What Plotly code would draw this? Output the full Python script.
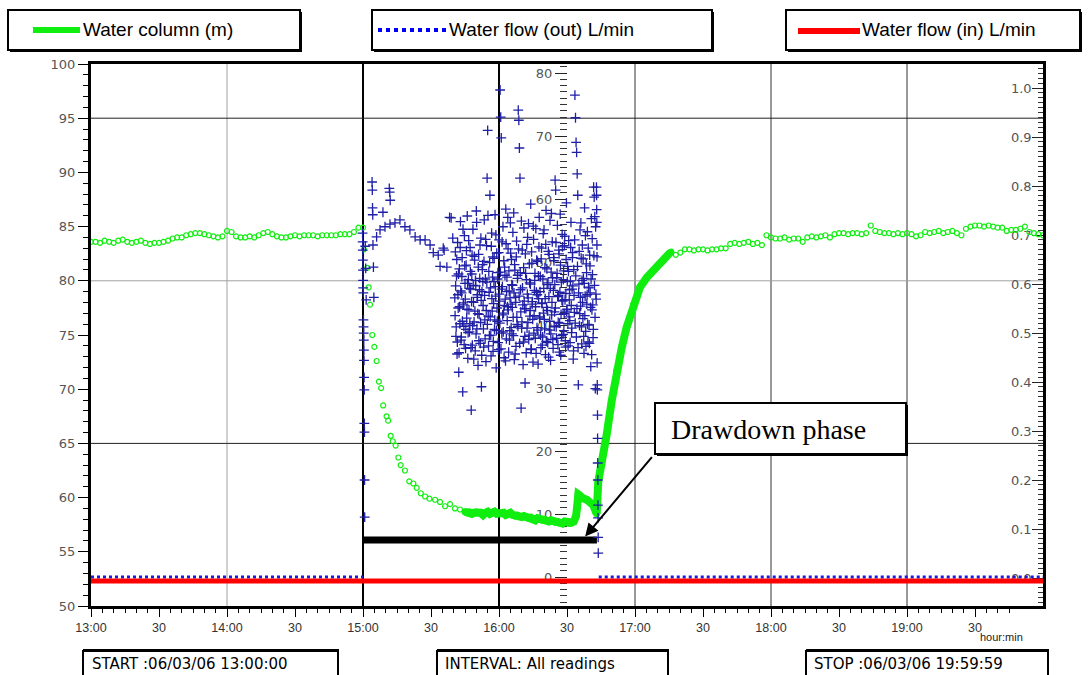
import numpy as np
import pandas as pd
import plotly.graph_objects as go

# ---------------- axis categories (minutes after 13:00) ----------------
x_tick_minutes = [0, 30, 60, 90, 120, 150, 180, 210, 240, 270, 300, 330, 360, 390]
x_tick_labels = ["13:00", "30", "14:00", "30", "15:00", "30", "16:00", "30",
                 "17:00", "30", "18:00", "30", "19:00", "30"]

# ---------------- Water column (m) ----------------
# readings every 2 min, 13:00 -> 14:58
wc_early_start, wc_early_step = 0, 2
wc_early = [83.6, 83.6, 83.5, 83.7, 83.6, 83.5, 83.7, 83.8, 83.6, 83.5,
            83.6, 83.7, 83.5, 83.4, 83.5, 83.5, 83.6, 83.7, 83.9, 84.0,
            84.0, 84.2, 84.3, 84.4, 84.4, 84.3, 84.2, 84.1, 84.0, 84.1,
            84.6, 84.5, 84.1, 84.0, 84.0, 84.1, 84.0, 84.2, 84.4, 84.5,
            84.3, 84.1, 84.0, 84.0, 84.1, 84.2, 84.1, 84.2, 84.2, 84.2,
            84.1, 84.2, 84.2, 84.2, 84.2, 84.3, 84.3, 84.3, 84.5, 84.9]
# recession after pumping start (sparse readings)
wc_drop_t = [120.0, 120.4, 121.9, 122.5, 123.1, 124.1, 125.0, 126.0, 127.0, 128.0,
             128.9, 130.4, 131.1, 132.2, 133.1, 134.4, 135.6, 136.6, 138.5, 140.4,
             142.2, 143.7, 145.5, 147.4, 149.3, 151.8, 154.0, 156.2, 158.4, 160.6,
             162.8, 165.0]
wc_drop_v = [84.9, 82.9, 81.2, 79.4, 77.8, 75.0, 73.9, 72.6, 70.7, 70.1,
             68.5, 67.5, 67.1, 65.7, 65.2, 64.8, 63.7, 63.0, 62.5, 61.5,
             61.3, 60.9, 60.4, 60.1, 59.9, 59.8, 59.6, 59.2, 59.4, 59.0,
             58.9, 58.7]
# dense readings: drawdown floor, jump and recovery
wc_dense_t = [165, 166, 167, 168, 169, 170, 171, 172, 173, 174,
              175, 176, 177, 178, 179, 180, 181, 182, 183, 184,
              185, 186, 187, 188, 189, 190, 191, 192, 193, 194,
              195, 196, 197, 198, 199, 200, 201, 202, 203, 204,
              205, 206, 207, 208, 209, 210, 211, 212, 213, 214,
              214.5, 215.0, 215.7, 216.5, 218.7, 221.6, 222.6, 223.1,
              223.8, 225.3, 227.5, 229.7, 231.9, 234.1, 236.3, 239.3, 242.2, 245.2,
              248.8, 252.5, 255.5]
wc_dense_v = [58.7, 58.6, 58.7, 58.5, 58.6, 58.7, 58.6, 58.6, 58.4, 58.6,
              58.7, 58.5, 58.6, 58.7, 58.5, 58.6, 58.5, 58.6, 58.4, 58.5,
              58.6, 58.4, 58.3, 58.4, 58.3, 58.2, 58.3, 58.2, 58.1, 58.2,
              58.1, 57.9, 58.1, 58.0, 57.9, 58.0, 57.9, 57.8, 57.9, 57.8,
              57.7, 57.8, 57.7, 57.6, 57.8, 57.7, 57.6, 57.7, 57.8, 58.3,
              59.2, 60.3, 60.2, 60.0, 59.8, 59.3, 58.8, 58.5,
              61.5, 63.0, 65.8, 68.9, 71.7, 73.8, 75.7, 77.8, 79.4, 80.3,
              81.1, 81.9, 82.6]
# readings every 2 min, 17:16 -> 20:00
wc_late_start, wc_late_step = 256, 2
wc_late = [82.7, 82.4, 82.6, 82.9, 82.9, 82.8, 82.9, 82.9, 82.8, 82.9,
           82.9, 83.0, 83.0, 83.4, 83.5, 83.4, 83.5, 83.6, 83.4, 83.5,
           83.3, 84.2, 84.0, 83.9, 83.9, 84.0, 83.8, 83.9, 83.9, 83.6,
           84.0, 84.1, 84.0, 84.1, 84.2, 84.0, 84.3, 84.4, 84.4, 84.3,
           84.4, 84.4, 84.3, 84.4, 85.1, 84.6, 84.5, 84.4, 84.4, 84.3,
           84.4, 84.3, 84.4, 84.3, 84.1, 84.2, 84.5, 84.4, 84.5, 84.6,
           84.4, 84.5, 84.6, 84.4, 84.2, 84.8, 85.0, 85.1, 85.1, 85.0,
           85.1, 85.0, 84.9, 84.9, 84.6, 84.7, 84.7, 84.8, 85.0, 84.5,
           84.4, 84.3, 84.2]

# ---------------- Water flow (out) L/min ----------------
flow_out_idle_t = [[0, 120], [224, 420]]
flow_out_idle_v = [[0.0, 0.0], [0.0, 0.0]]
# start of pumping (explicit readings)
flow_start_t = [119.8, 119.85, 119.9, 119.95, 120.0, 120.05, 120.1, 120.15, 120.2, 120.25,
                120.3, 120.35, 120.4, 120.45, 120.5, 120.55, 120.6, 120.65, 120.7, 120.75,
                121.0, 121.2, 121.4,
                124.0, 124.1, 124.2, 124.3, 124.4, 124.6, 124.8,
                128.8, 131.6, 131.8, 132.0,
                126.0, 127.5, 129.7, 131.9, 134.1, 136.3, 138.5, 140.7, 143.0, 145.2,
                147.4, 149.6, 151.0, 153.2, 155.4, 154.0,
                155.8, 158.2, 157.0, 158.9, 159.6]
flow_start_v = [54.6, 53.2, 51.9, 50.3, 48.7, 47.1, 45.9, 45.1, 40.8, 39.7,
                38.7, 37.6, 36.0, 34.4, 31.7, 29.7, 24.4, 23.0, 15.4, 9.5,
                52.5, 49.0, 44.0,
                62.7, 61.4, 58.6, 57.5, 52.7, 49.2, 44.4,
                57.9, 61.7, 61.1, 59.8,
                54.0, 55.1, 55.6, 56.0, 56.2, 56.7, 55.6, 55.1, 54.0, 53.5,
                53.5, 52.7, 51.5, 51.1, 52.2, 49.3,
                51.9, 57.1, 49.2, 57.0, 53.8]
# main pumping period: two interleaved reading sets every 15 s from 15:40:30
flow_cloud_start, flow_cloud_step = 160.5, 0.25
flow_cloud_a = [44.3, 51.6, 38.2, 47.8, 35.4, 53.1, 42.7, 32.5, 48.9, 40.2, 56.4, 37.6, 45.1, 50.7, 29.4, 43.5, 39.8, 54.2, 46.6, 36.3, 49.5, 41.1, 57.3, 34.7, 47.2,
                42.4, 38.9, 52.3, 45.7, 26.5, 48.1, 36.8, 55.2, 43.6, 40.5, 50.3, 35.9, 46.2, 58.1, 39.4, 44.8, 33.6, 51.2, 41.7, 47.4, 37.1, 53.8, 30.2, 45.3, 49.6,
                43.1, 36.5, 56.7, 40.8, 47.3, 34.2, 52.6, 63.3, 70.9, 41.4, 48.5, 38.3, 60.6, 45.9, 35.1, 54.6, 42.2, 50.8, 37.4, 46.9, 39.3, 57.5, 44.6, 33.2, 51.4,
                40.6, 48.3, 36.1, 53.5, 43.8, 77.3, 73.0, 69.7, 38.7, 46.1, 55.6, 41.9, 34.8, 49.2, 44.1, 58.4, 37.8, 47.6, 42.9, 52.1, 35.7, 45.4, 39.1, 56.2, 43.3,
                50.4, 38.6, 46.3, 41.2, 57.8, 34.5, 48.7, 44.4, 36.6, 53.3, 40.1, 47.9, 74.1, 72.5, 68.1, 63.3, 45.6, 26.8, 39.5, 51.9, 43.2, 37.3, 55.4, 42.6, 30.8,
                48.2, 35.6, 52.8, 44.9, 40.4, 56.1, 38.4, 46.7, 42.3, 59.2, 36.2, 49.8, 43.7, 34.1, 53.6, 41.5, 47.1, 37.9, 55.3, 45.2, 39.6, 50.1, 33.8, 44.2, 57.1,
                41.3, 47.7, 36.4, 52.2, 43.4, 38.1, 54.5, 45.8, 40.9, 49.1, 35.3, 58.2, 42.8, 46.4, 37.2, 51.7, 44.5, 39.2, 56.6, 34.4, 48.4, 41.6, 53.2, 37.7, 45.5,
                50.2, 42.1, 63.0, 61.4, 39.7, 47.5, 55.8, 36.9, 44.7, 51.3, 40.3, 57.6, 35.2, 46.8, 43.9, 52.4, 38.5, 48.6, 41.8, 54.1, 37.5, 45.0, 59.4, 42.5, 49.3,
                36.7, 53.4, 44.0, 40.7, 47.0, 56.3, 38.8, 45.7, 51.5, 34.6, 48.8, 42.0, 76.5, 72.9, 69.0, 67.4, 64.0, 60.6, 30.5, 46.5, 39.9, 55.1, 43.0, 50.6, 37.0,
                52.7, 41.0, 47.4, 35.5, 58.6, 44.6, 39.0, 49.7, 43.3, 54.8, 37.3, 46.0, 40.0, 51.1, 45.1, 33.4, 56.9, 42.4, 48.0, 38.0, 61.9, 60.3, 57.2, 29.9, 44.9]
flow_cloud_b = [41.5, 46.2, 39.7, 50.4, 37.3, 44.8, 48.1, 35.6, 42.9, 52.3, 45.4, 38.1, 47.7, 40.6, 55.2, 43.2, 36.9, 49.4, 44.1, 39.3, 51.8, 42.5, 46.6, 38.8, 53.4,
                45.8, 40.2, 48.5, 36.4, 43.7, 51.1, 39.9, 46.3, 34.6, 50.9, 42.2, 47.1, 38.6, 56.3, 44.4, 41.8, 49.2, 37.5, 45.6, 52.7, 40.4, 43.9, 35.2, 48.8, 46.9,
                39.4, 50.1, 44.7, 37.8, 53.6, 42.3, 46.8, 40.1, 57.4, 36.7, 45.2, 49.9, 41.3, 38.4, 52.5, 44.2, 47.6, 35.8, 43.4, 50.6, 40.8, 46.1, 54.3, 39.1, 42.7,
                47.3, 37.2, 51.5, 44.9, 40.3, 48.4, 36.2, 45.7, 53.2, 41.6, 38.9, 50.2, 43.1, 47.9, 34.3, 52.9, 45.3, 40.7, 57.1, 42.4, 48.6, 37.6, 44.3, 51.4, 39.6,
                46.4, 42.8, 54.7, 38.3, 45.1, 49.6, 35.4, 43.6, 50.8, 41.2, 47.4, 39.8, 52.1, 44.6, 37.1, 48.3, 42.1, 56.5, 40.5, 45.9, 33.7, 49.1, 43.8, 38.2, 51.3,
                42.6, 47.2, 39.5, 53.9, 44.3, 37.7, 49.7, 41.4, 46.5, 36.1, 51.6, 43.3, 40.9, 55.7, 38.7, 45.5, 48.2, 42.9, 35.5, 50.3, 44.8, 39.2, 47.8, 52.4, 41.1,
                45.3, 38.4, 50.5, 43.5, 36.8, 47.3, 41.9, 55.1, 39.4, 44.2, 52.8, 37.4, 48.9, 42.3, 46.7, 34.9, 51.2, 40.6, 45.8, 38.6, 57.7, 43.6, 47.5, 36.3, 50.7,
                39.8, 46.4, 42.7, 53.1, 37.9, 48.2, 44.5, 40.4, 51.9, 35.7, 45.2, 49.5, 41.7, 38.3, 54.4, 43.8, 47.2, 39.1, 52.6, 44.0, 36.5, 50.4, 42.2, 46.9, 40.2,
                48.5, 41.3, 45.6, 37.2, 52.3, 43.1, 39.5, 50.7, 46.2, 35.9, 44.7, 53.5, 40.3, 47.8, 38.1, 42.6, 49.3, 36.4, 45.1, 51.7, 41.8, 44.4, 56.2, 39.7, 47.1,
                43.6, 50.5, 38.2, 46.6, 41.5, 54.2, 36.6, 48.3, 44.8, 40.1, 52.2, 45.9, 37.1, 49.4, 42.8, 47.3, 35.3, 53.7, 43.2, 39.3, 51.0, 46.3, 41.2, 55.6, 44.1]
# end of pumping
flow_end_t = [223.0, 223.05, 223.1, 223.15, 223.2, 223.25, 223.3, 223.35, 223.4, 223.45,
              223.5, 223.55, 223.6, 223.65, 223.7, 223.75, 223.8]
flow_end_v = [61.9, 60.6, 58.3, 56.3, 52.7, 50.8, 34.0, 30.5, 29.7, 25.7,
              22.0, 18.1, 15.4, 11.4, 9.4, 6.3, 3.8]

# ---------------- Water flow (in) L/min ----------------
flow_in_t = [0, 420]
flow_in_v = [-0.006, -0.006]

# ---------------- pumping (drawdown) period bar ----------------
drawdown_bar_t = [120, 223.2]
drawdown_bar_level = [56.1, 56.1]
drawdown_arrow_tip = (218, 56.4)

# ---------------- figure ----------------
W, H = 1091, 675
L, R, T, B = 91, 48, 64, 69
PW, PH = W - L - R, H - T - B


def px(x):
    return (x - L) / PW


def py(y):
    return (H - B - y) / PH


GREEN = "#10ee10"
BLUE = "#1f1fa6"
t_early = [wc_early_start + wc_early_step * i for i in range(len(wc_early))]
t_late = [wc_late_start + wc_late_step * i for i in range(len(wc_late))]
t_cloud_a = [flow_cloud_start + flow_cloud_step * i for i in range(len(flow_cloud_a))]
t_cloud_b = [flow_cloud_start + flow_cloud_step * (i + 0.5) for i in range(len(flow_cloud_b))]

fig = go.Figure()

# flow in (red)
fig.add_trace(go.Scatter(x=flow_in_t, y=flow_in_v, yaxis="y3", mode="lines",
                         line=dict(color="#ff0000", width=5), showlegend=False))
# flow out idle (dotted)
for tt, vv in zip(flow_out_idle_t, flow_out_idle_v):
    fig.add_trace(go.Scatter(x=tt, y=vv, yaxis="y2", mode="lines",
                             line=dict(color="#1a1ae0", width=3, dash="dot"), showlegend=False))
# flow out readings
cross = dict(symbol="cross-thin", size=7, line=dict(width=1.3, color=BLUE), color=BLUE)
for tt, vv in [(flow_start_t, flow_start_v), (t_cloud_a, flow_cloud_a),
               (t_cloud_b, flow_cloud_b), (flow_end_t, flow_end_v)]:
    fig.add_trace(go.Scatter(x=tt, y=vv, yaxis="y2", mode="markers", marker=cross, showlegend=False))

# drawdown bar
fig.add_trace(go.Scatter(x=drawdown_bar_t, y=drawdown_bar_level, mode="lines",
                         line=dict(color="black", width=7), showlegend=False))

# water column
circ = dict(symbol="circle-open", size=5, line=dict(width=1.2, color=GREEN), color=GREEN)
for tt, vv in [(t_early, wc_early), (wc_drop_t, wc_drop_v), (t_late, wc_late)]:
    fig.add_trace(go.Scatter(x=tt, y=vv, mode="markers", marker=circ, showlegend=False))
fig.add_trace(go.Scatter(x=wc_dense_t, y=wc_dense_v, mode="lines+markers",
                         line=dict(color=GREEN, width=8), marker=dict(size=7, color=GREEN),
                         showlegend=False))

tickfont = dict(family="DejaVu Sans", size=13, color="#555")

shapes = []
# grid lines
grid_v = [(60, "#a0a0a0", 1), (120, "#000", 2), (180, "#000", 2),
          (240, "#333", 1), (300, "#333", 1), (360, "#333", 1)]
for xv, c, w in grid_v:
    shapes.append(dict(type="line", xref="x", yref="paper", x0=xv, x1=xv, y0=0, y1=1,
                       line=dict(color=c, width=w), layer="below"))
grid_h = [(65, "#222", 1), (80, "#a0a0a0", 1), (95, "#222", 1)]
for yv, c, w in grid_h:
    shapes.append(dict(type="line", xref="paper", yref="y", x0=0, x1=1, y0=yv, y1=yv,
                       line=dict(color=c, width=w), layer="below"))


def box(x0, y0, x1, y1, shadow=2, width=2):
    shapes.append(dict(type="rect", xref="paper", yref="paper",
                       x0=px(x0 + shadow), x1=px(x1 + shadow), y0=py(y1 + shadow), y1=py(y0 + shadow),
                       fillcolor="black", line=dict(width=0)))
    shapes.append(dict(type="rect", xref="paper", yref="paper",
                       x0=px(x0), x1=px(x1), y0=py(y1), y1=py(y0),
                       fillcolor="white", line=dict(color="black", width=width)))


# legend boxes
box(8, 10, 300, 50)
box(372, 10, 712, 50)
box(786, 10, 1080, 50)
shapes.append(dict(type="line", xref="paper", yref="paper", x0=px(33), x1=px(80), y0=py(30), y1=py(30),
                   line=dict(color=GREEN, width=6)))
shapes.append(dict(type="line", xref="paper", yref="paper", x0=px(378), x1=px(447), y0=py(30), y1=py(30),
                   line=dict(color="#0000ff", width=4, dash="dot")))
shapes.append(dict(type="line", xref="paper", yref="paper", x0=px(798), x1=px(860), y0=py(31), y1=py(31),
                   line=dict(color="#ff0000", width=6)))
# bottom info boxes
for x0, x1 in [(83, 338), (437, 668), (806, 1048)]:
    box(x0, 651, x1, 690, shadow=1)
    shapes.append(dict(type="line", xref="paper", yref="paper", x0=px(x0), x1=px(x1 + 1),
                       y0=py(650.5), y1=py(650.5), line=dict(color="black", width=3)))
# drawdown label box
box(655, 403, 906, 454, shadow=2)

annotations = [
    dict(text="Water column (m)", x=px(81), y=py(30)),
    dict(text="Water flow (out) L/min", x=px(447), y=py(30)),
    dict(text="Water flow (in) L/min", x=px(860), y=py(30)),
]
for a in annotations:
    a.update(xref="paper", yref="paper", xanchor="left", yanchor="middle", showarrow=False,
             font=dict(family="Liberation Sans", size=19, color="black"))
for txt, x in [("START :06/03/06 13:00:00", 90), ("INTERVAL: All readings", 443),
               ("STOP :06/03/06 19:59:59", 812)]:
    annotations.append(dict(text=txt, x=px(x), y=py(664), xref="paper", yref="paper",
                            xanchor="left", yanchor="middle", showarrow=False,
                            font=dict(family="DejaVu Sans", size=15, color="black")))
annotations.append(dict(text="hour:min", x=px(978), y=py(637), xref="paper", yref="paper",
                        xanchor="left", yanchor="middle", showarrow=False,
                        font=dict(family="Liberation Sans", size=11, color="#222")))
annotations.append(dict(text="Drawdown phase", x=px(669), y=py(429), xref="paper", yref="paper",
                        xanchor="left", yanchor="middle", showarrow=False,
                        font=dict(family="Liberation Serif", size=28, color="black")))
annotations.append(dict(text="", x=drawdown_arrow_tip[0], y=drawdown_arrow_tip[1], xref="x", yref="y",
                        showarrow=True, ax=68, ay=-81, arrowhead=2, arrowsize=1.3, arrowwidth=2,
                        arrowcolor="black", standoff=0))

fig.update_layout(
    width=W, height=H,
    margin=dict(l=L, r=R, t=T, b=B, pad=0),
    paper_bgcolor="white", plot_bgcolor="white",
    showlegend=False,
    font=dict(family="DejaVu Sans"),
    xaxis=dict(range=[0, 420], tickvals=x_tick_minutes, ticktext=x_tick_labels,
               ticks="outside", ticklen=8, tickcolor="black", tickwidth=1,
               minor=dict(dtick=5, tick0=0, ticklen=4, ticks="outside", tickcolor="black"),
               showline=True, linecolor="black", linewidth=3, mirror=True,
               showgrid=False, zeroline=False,
               tickfont=dict(family="Liberation Sans", size=12.5, color="#333")),
    yaxis=dict(range=[50, 100], tick0=50, dtick=5, ticks="outside", ticklen=10,
               tickcolor="black", minor=dict(dtick=1, ticklen=5, ticks="outside", tickcolor="black"),
               showline=True, linecolor="black", linewidth=3, mirror=True,
               showgrid=False, zeroline=False, tickfont=tickfont),
    yaxis2=dict(range=[-4.6, 81.43], overlaying="y", anchor="free", position=0.5, side="left",
                tick0=0, dtick=10, ticks="outside", ticklen=12, tickcolor="#222",
                minor=dict(dtick=1, ticklen=7, ticks="outside", tickcolor="#333"),
                showline=False, showgrid=False, zeroline=False, tickfont=tickfont,
                layer="below traces"),
    yaxis3=dict(range=[-0.0571, 1.049], overlaying="y", anchor="x", side="right",
                tick0=0, dtick=0.1, tickformat=".1f", ticks="inside", ticklen=11, tickcolor="#222",
                ticklabelposition="inside",
                minor=dict(dtick=0.01, ticklen=5, ticks="inside", tickcolor="#333"),
                showline=False, showgrid=False, zeroline=False, tickfont=tickfont,
                layer="below traces"),
    shapes=shapes,
    annotations=annotations,
)

fig.write_html("out.html", config={"displayModeBar": False})
